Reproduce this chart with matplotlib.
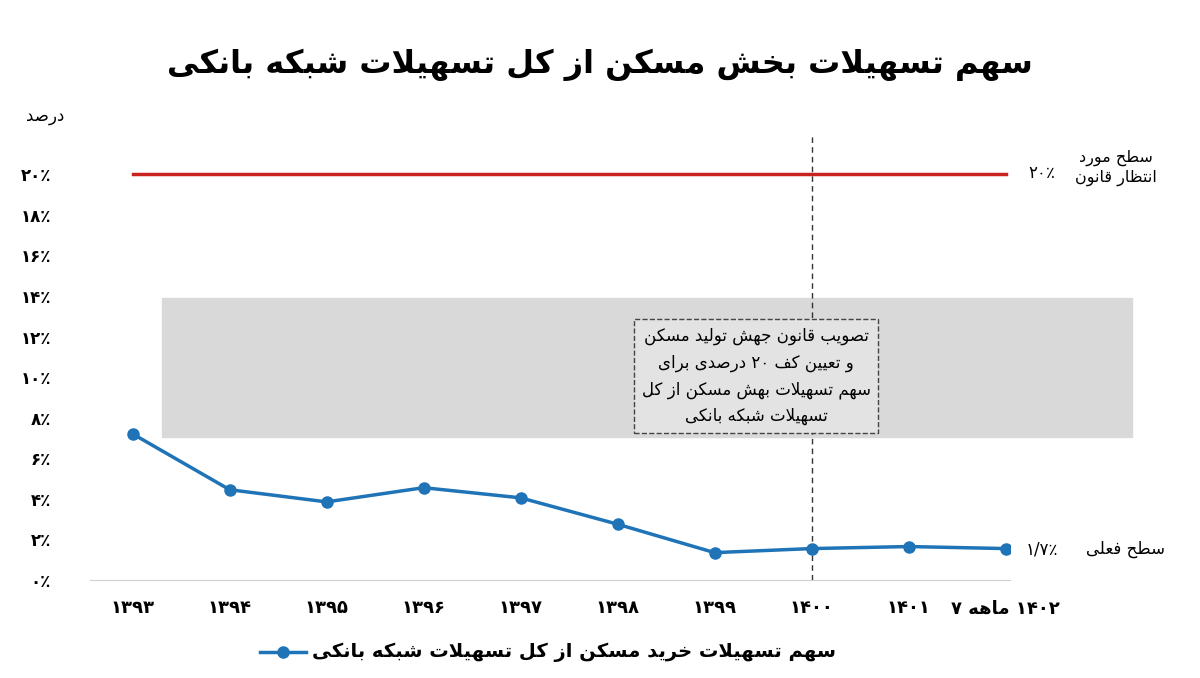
import matplotlib
matplotlib.use("Agg")
import matplotlib.pyplot as plt
from matplotlib.patches import Rectangle
from matplotlib.lines import Line2D

# ---------- minimal Persian shaping (visual order) ----------
FORMS = {
 'ا':(0xFE8D,0xFE8E,None,None),'آ':(0xFE81,0xFE82,None,None),
 'ب':(0xFE8F,0xFE90,0xFE91,0xFE92),'پ':(0xFB56,0xFB57,0xFB58,0xFB59),
 'ت':(0xFE95,0xFE96,0xFE97,0xFE98),'ث':(0xFE99,0xFE9A,0xFE9B,0xFE9C),
 'ج':(0xFE9D,0xFE9E,0xFE9F,0xFEA0),'چ':(0xFB7A,0xFB7B,0xFB7C,0xFB7D),
 'ح':(0xFEA1,0xFEA2,0xFEA3,0xFEA4),'خ':(0xFEA5,0xFEA6,0xFEA7,0xFEA8),
 'د':(0xFEA9,0xFEAA,None,None),'ذ':(0xFEAB,0xFEAC,None,None),
 'ر':(0xFEAD,0xFEAE,None,None),'ز':(0xFEAF,0xFEB0,None,None),
 'ژ':(0xFB8A,0xFB8B,None,None),
 'س':(0xFEB1,0xFEB2,0xFEB3,0xFEB4),'ش':(0xFEB5,0xFEB6,0xFEB7,0xFEB8),
 'ص':(0xFEB9,0xFEBA,0xFEBB,0xFEBC),'ض':(0xFEBD,0xFEBE,0xFEBF,0xFEC0),
 'ط':(0xFEC1,0xFEC2,0xFEC3,0xFEC4),'ظ':(0xFEC5,0xFEC6,0xFEC7,0xFEC8),
 'ع':(0xFEC9,0xFECA,0xFECB,0xFECC),'غ':(0xFECD,0xFECE,0xFECF,0xFED0),
 'ف':(0xFED1,0xFED2,0xFED3,0xFED4),'ق':(0xFED5,0xFED6,0xFED7,0xFED8),
 'ک':(0xFB8E,0xFB8F,0xFB90,0xFB91),'گ':(0xFB92,0xFB93,0xFB94,0xFB95),
 'ل':(0xFEDD,0xFEDE,0xFEDF,0xFEE0),'م':(0xFEE1,0xFEE2,0xFEE3,0xFEE4),
 'ن':(0xFEE5,0xFEE6,0xFEE7,0xFEE8),'و':(0xFEED,0xFEEE,None,None),
 'ه':(0xFEE9,0xFEEA,0xFEEB,0xFEEC),'ی':(0xFBFC,0xFBFD,0xFBFE,0xFBFF),
}
def shape(s):
    chars = []
    i = 0
    while i < len(s):
        if s[i] == 'ل' and i + 1 < len(s) and s[i+1] == 'ا':
            chars.append('LA'); i += 2
        else:
            chars.append(s[i]); i += 1
    def joins_left(c):
        return c in FORMS and FORMS[c][2] is not None
    out = []
    for k, c in enumerate(chars):
        prev = chars[k-1] if k > 0 else None
        nxt = chars[k+1] if k + 1 < len(chars) else None
        jp = prev is not None and joins_left(prev)
        if c == 'LA':
            out.append(chr(0xFEFC if jp else 0xFEFB)); continue
        if c not in FORMS:
            out.append(c); continue
        iso, fin, ini, med = FORMS[c]
        jn = ini is not None and nxt is not None and (nxt in FORMS or nxt == 'LA')
        if jp and jn: g = med
        elif jp: g = fin
        elif jn: g = ini
        else: g = iso
        out.append(chr(g))
    return ''.join(out)[::-1]

def fa(s):
    return '\n'.join(shape(line) for line in s.split('\n'))

plt.rcParams['font.family'] = ['DejaVu Sans']

# ---------- data ----------
years = ['۱۳۹۳', '۱۳۹۴', '۱۳۹۵', '۱۳۹۶', '۱۳۹۷', '۱۳۹۸', '۱۳۹۹', '۱۴۰۰', '۱۴۰۱', '۷ ' + fa('ماهه') + ' ۱۴۰۲']
share = [7.2, 4.45, 3.85, 4.55, 4.05, 2.75, 1.35, 1.55, 1.65, 1.55]
yticks = [0, 2, 4, 6, 8, 10, 12, 14, 16, 18, 20]
ytick_labels = ['۰٪', '۲٪', '۴٪', '۶٪', '۸٪', '۱۰٪', '۱۲٪', '۱۴٪', '۱۶٪', '۱۸٪', '۲۰٪']
target = 20
last_label = '۱/۷٪'

blue = '#1f73b7'
fig = plt.figure(figsize=(12, 6.78), dpi=100)
ax = fig.add_axes([0.075, 0.1445, 0.767, 0.6585])
x = list(range(len(share)))
ax.set_xlim(-0.44, 9.05)
ax.set_ylim(0, 22)

ax.add_patch(Rectangle((0.3, 7.05), 10.0, 6.85, color='#d9d9d9', zorder=0, clip_on=False))

ax.plot([0, 9], [target, target], color='#c8231f', lw=2.5, zorder=2)
ax.plot(x, share, color=blue, lw=2.5, marker='o', ms=8, zorder=4)
ax.axvline(7, ymin=0, ymax=1, color='#333333', lw=1, ls=(0, (4, 3)), zorder=3)

txt = 'تصویب قانون جهش تولید مسکن\nو تعیین کف DD درصدی برای\nسهم تسهیلات بهش مسکن از کل\nتسهیلات شبکه بانکی'
ax.text(6.43, 10.05, fa(txt).replace('DD', '۲۰'),
        ha='center', va='center', fontsize=12, linespacing=1.6, zorder=5,
        bbox=dict(boxstyle='square,pad=0.45', fc='#e3e3e3', ec='#444444', ls='--', lw=1))

for s in ['top', 'right', 'left']:
    ax.spines[s].set_visible(False)
ax.spines['bottom'].set_color('#d0d0d0')
ax.set_yticks(yticks)
ax.set_yticklabels(ytick_labels, fontsize=12, fontweight='bold')
ax.set_xticks(x)
ax.set_xticklabels(years, fontsize=13, fontweight='bold')
ax.tick_params(length=0)
ax.tick_params(axis='x', pad=14)
ax.tick_params(axis='y', pad=28)

fig.text(0.038, 0.822, fa('درصد'), fontsize=12, ha='center')
fig.text(0.5, 0.905, fa('سهم تسهیلات بخش مسکن از کل تسهیلات شبکه بانکی'),
         fontsize=23, fontweight='bold', ha='center', va='center')
fig.text(0.868, 0.745, '۲۰٪', fontsize=12, ha='center', va='center')
fig.text(0.93, 0.752, fa('سطح مورد\nانتظار قانون'), fontsize=11.5, ha='center', va='center', linespacing=1.3)
fig.text(0.868, 0.19, last_label, fontsize=12, ha='center', va='center')
fig.text(0.938, 0.19, fa('سطح فعلی'), fontsize=12, ha='center', va='center')

fig.add_artist(Line2D([0.217, 0.255], [0.038, 0.038], transform=fig.transFigure, color=blue, lw=2.5))
fig.add_artist(Line2D([0.236], [0.038], transform=fig.transFigure, color=blue, marker='o', ms=8))
fig.text(0.26, 0.038, fa('سهم تسهیلات خرید مسکن از کل تسهیلات شبکه بانکی'), fontsize=14,
         fontweight='bold', ha='left', va='center')

fig.savefig('out.png', dpi=100, facecolor='white')
